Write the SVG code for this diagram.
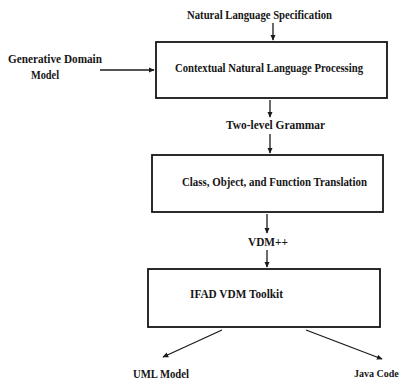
<svg xmlns="http://www.w3.org/2000/svg" width="401" height="382" viewBox="0 0 401 382">
  <style>
    .box { fill: #ffffff; stroke: #151515; stroke-width: 1.8; }
    .lbl { font-family: "Liberation Serif", "Times New Roman", serif; font-size: 11.5px; font-weight: bold; fill: #161616; }
    .wire { stroke: #1a1a1a; stroke-width: 1.3; fill: none; marker-end: url(#head); }
  </style>
  <defs>
    <marker id="head" viewBox="0 0 8 8" refX="7" refY="4" markerWidth="6" markerHeight="6" orient="auto" markerUnits="userSpaceOnUse">
      <path d="M0,0.5 L8,4 L0,7.5 Z" fill="#1a1a1a"/>
    </marker>
  </defs>
  <rect width="401" height="382" fill="#ffffff"/>

  <g id="connectors">
    <line class="wire" x1="273" y1="23" x2="273" y2="40"/>
    <line class="wire" x1="100" y1="70" x2="154" y2="70"/>
    <line class="wire" x1="270" y1="100" x2="270" y2="117"/>
    <line class="wire" x1="270" y1="134" x2="270" y2="153"/>
    <line class="wire" x1="267" y1="214" x2="267" y2="233"/>
    <line class="wire" x1="267" y1="250" x2="267" y2="267"/>
    <line class="wire" x1="222" y1="330" x2="163" y2="357"/>
    <line class="wire" x1="306" y1="330" x2="382" y2="359"/>
  </g>

  <g id="nls">
    <text class="lbl" x="187" y="19" textLength="145" lengthAdjust="spacingAndGlyphs">Natural Language Specification</text>
  </g>

  <g id="gdm">
    <text class="lbl" x="8" y="63" textLength="94" lengthAdjust="spacingAndGlyphs">Generative Domain</text>
    <text class="lbl" x="31" y="79" textLength="28" lengthAdjust="spacingAndGlyphs">Model</text>
  </g>

  <g id="cnlp">
    <rect class="box" x="156" y="42" width="231" height="56"/>
    <text class="lbl" x="175" y="72" textLength="188" lengthAdjust="spacingAndGlyphs">Contextual Natural Language Processing</text>
  </g>

  <g id="tlg">
    <text class="lbl" x="226" y="129" textLength="99" lengthAdjust="spacingAndGlyphs">Two-level Grammar</text>
  </g>

  <g id="cofTranslation">
    <rect class="box" x="152" y="155" width="231" height="57"/>
    <text class="lbl" x="182" y="186" textLength="185" lengthAdjust="spacingAndGlyphs">Class, Object, and Function Translation</text>
  </g>

  <g id="vdmpp">
    <text class="lbl" x="248" y="246" textLength="40" lengthAdjust="spacingAndGlyphs">VDM++</text>
  </g>

  <g id="toolkit">
    <rect class="box" x="148" y="269" width="232" height="58"/>
    <text class="lbl" x="190" y="298" textLength="93" lengthAdjust="spacingAndGlyphs">IFAD VDM Toolkit</text>
  </g>

  <g id="uml">
    <text class="lbl" x="133" y="378" textLength="56" lengthAdjust="spacingAndGlyphs">UML Model</text>
  </g>

  <g id="java">
    <text class="lbl" x="354" y="377" style="font-size:10px">Java Code</text>
  </g>
</svg>
